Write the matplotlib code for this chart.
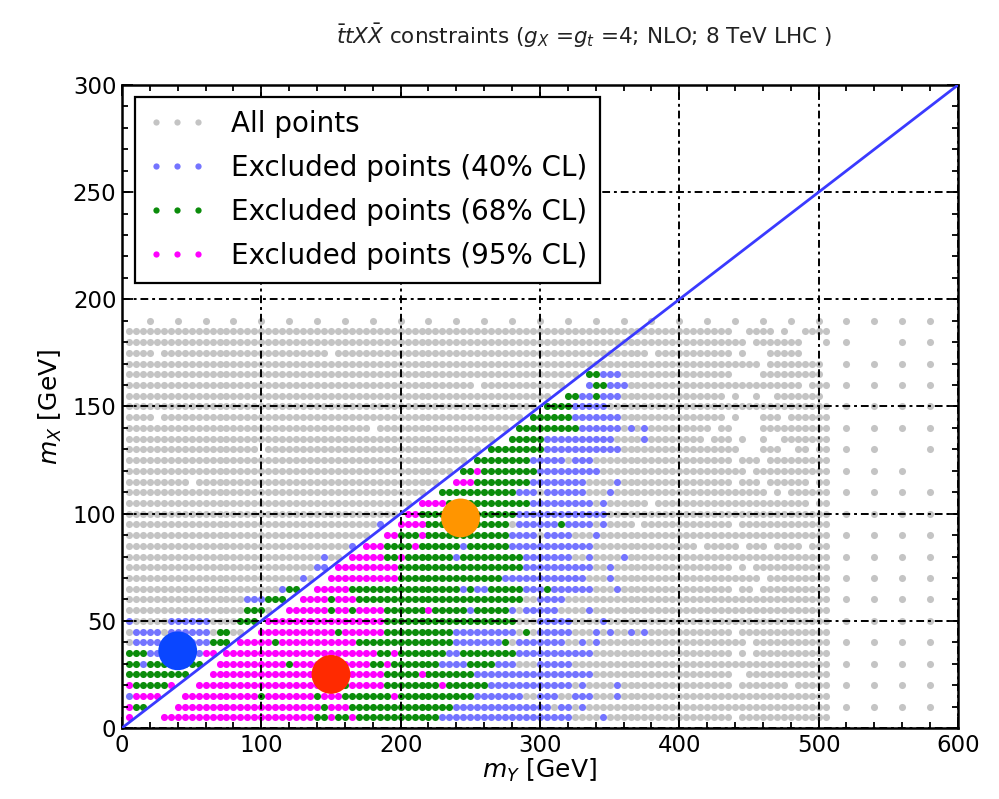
import matplotlib
matplotlib.use("Agg")
import matplotlib.pyplot as plt
from matplotlib.ticker import MultipleLocator
from matplotlib.lines import Line2D

# ---------------- data ----------------
# scan grid
ROWS_MX = list(range(5, 190, 5))            # dense rows of m_X
MY_DENSE = list(range(5, 510, 5))           # dense columns of m_Y
TOP_ROW_MX = 190                            # sparse top row
TOP_ROW_MY = list(range(20, 600, 20))
RIGHT_MX = list(range(10, 200, 10))         # sparse block beyond 500 GeV
RIGHT_MY = [520, 540, 560, 580]
RIGHT_MISSING = [(180, 540), (130, 560), (120, 580)]

# per-row empty strip just below the diagonal, and the excluded bands to its right
BAND_MX = [5, 10, 15, 20, 25, 30, 35, 40, 45, 50, 55, 60, 65, 70, 75, 80, 85,
           90, 95, 100, 105, 110, 115, 120, 125, 130, 135, 140, 145, 150, 155, 160, 165]
GAP_LO = [10, 20, 30, 40, 50, 60, 70, 80, 90, 100, 110, 120, 130, 140, 150, 160, 170,
          180, 190, 200, 210, 220, 230, 240, 250, 260, 270, 280, 290, 300, 310, 320, 330]
GAP_HI = [30, 40, 45, 55, 65, 70, 75, 85, 100, 105, 120, 130, 140, 150, 155, 165, 175,
          190, 200, 205, 215, 230, 240, 245, 255, 265, 280, 285, 295, 305, 320, 335, 335]
MAG_END = [135, 160, 155, 185, 185, 175, 180, 165, 185, 185, 185, 165, 160, 195, 195, 185, 185,
           195, 215, 210, 230, 0, 250, 0, 0, 0, 0, 0, 0, 0, 0, 0, 0]
GRN_END = [225, 235, 250, 260, 250, 225, 280, 235, 235, 280, 275, 285, 285, 270, 285, 285, 275,
           275, 275, 280, 290, 280, 290, 295, 290, 300, 300, 325, 320, 320, 340, 345, 340]
BLU_END = [320, 320, 335, 320, 335, 320, 335, 315, 320, 320, 310, 315, 335, 330, 335, 320, 335,
           320, 335, 340, 335, 330, 330, 340, 335, 355, 350, 355, 355, 345, 355, 360, 355]

# excluded points left of the diagonal: (m_X, m_Y from, m_Y to)
LEFT_MAG = [(5, 5, 5), (10, 5, 5), (15, 10, 25), (20, 5, 5), (20, 35, 35), (35, 60, 65)]
LEFT_GRN = [(10, 10, 15), (20, 10, 30), (25, 5, 45), (30, 5, 10), (30, 20, 30), (30, 45, 55),
            (35, 5, 15), (40, 65, 75), (45, 70, 75), (50, 85, 95), (55, 90, 100),
            (60, 105, 115), (65, 120, 125)]
LEFT_BLU = [(15, 5, 5), (30, 15, 15), (30, 35, 40), (35, 20, 55), (40, 10, 60), (45, 10, 25),
            (45, 35, 60), (50, 5, 5), (50, 35, 60), (60, 90, 100), (65, 115, 115),
            (70, 130, 130), (75, 140, 145), (80, 145, 145), (85, 165, 165), (95, 185, 185)]

# scattered single points
EXTRA_MAG = [(90, 215), (85, 210), (80, 200), (55, 220), (25, 215), (20, 230), (120, 255),
             (5, 150), (5, 165), (15, 195), (35, 195), (30, 190)]
EXTRA_GRN = [(45, 155), (55, 150), (55, 165), (45, 290), (40, 275), (30, 250), (30, 255),
             (30, 260), (30, 265), (65, 305), (95, 315), (160, 340), (155, 340), (10, 145),
             (15, 140), (20, 160), (25, 150), (40, 110), (30, 120), (60, 150), (15, 100)]
EXTRA_BLU = [(5, 345), (10, 330), (20, 330), (20, 355), (40, 330), (40, 340), (45, 340),
             (45, 350), (45, 365), (50, 345), (55, 335), (65, 355), (75, 350), (80, 335),
             (80, 360), (90, 340), (95, 345), (115, 355), (140, 365), (140, 375), (135, 375),
             (65, 255), (65, 260), (85, 245), (80, 240), (35, 235), (35, 240), (55, 250),
             (65, 245), (160, 335), (155, 330), (155, 335), (70, 350), (15, 355), (45, 375),
             (110, 350), (105, 345), (100, 345), (130, 345), (145, 345), (165, 345)]
EXTRA_GRAY = [(60, 290), (60, 295), (50, 285), (50, 290), (50, 295), (30, 285), (30, 290),
              (30, 295), (15, 290), (15, 295), (15, 315), (15, 320), (90, 300), (55, 285),
              (45, 285), (45, 295), (40, 280), (95, 280), (110, 300), (125, 320), (10, 310)]
GRAY_HOLES = [(175, 25), (175, 150), (145, 25), (140, 180), (130, 100), (115, 50), (160, 255),
              (185, 440), (185, 445), (185, 470), (185, 480), (185, 485),
              (180, 450), (180, 490), (180, 495), (180, 500),
              (175, 380), (175, 440), (175, 450), (175, 455), (175, 460), (175, 490),
              (175, 495), (175, 500), (175, 505), (170, 460), (170, 505),
              (165, 440), (165, 445), (165, 450), (165, 455), (165, 505), (160, 490),
              (155, 435), (155, 445), (155, 450), (155, 460), (155, 465), (155, 505),
              (145, 435), (145, 445), (145, 450), (145, 455), (145, 475),
              (140, 425), (140, 440), (140, 445), (140, 450), (140, 455),
              (135, 420), (135, 440), (135, 450), (135, 455), (135, 465), (135, 470),
              (130, 445), (130, 450), (130, 455), (130, 475), (130, 480), (130, 495),
              (125, 440), (125, 460), (120, 450), (115, 440), (115, 460), (115, 495),
              (110, 465), (110, 475), (105, 380), (105, 495), (95, 370), (95, 440),
              (85, 415), (85, 445), (85, 465), (85, 490), (75, 440), (75, 450), (70, 460),
              (65, 440), (65, 455), (45, 440), (40, 450), (35, 440), (35, 450),
              (25, 440), (25, 445), (20, 440), (20, 480), (5, 440)]

# benchmark points (m_Y, m_X) and colours
BENCH_MY = [40, 150, 243]
BENCH_MX = [36, 25, 98]
BENCH_COL = ["#0a46ff", "#ff2a00", "#ff9500"]

COLORS = {"gray": "#c4c4c4", "blue": "#7474ff", "green": "#0b8c0b", "mag": "#ff00ff"}

# ---------------- assemble the point colours ----------------
pts = {}
for mx in ROWS_MX:
    for my in MY_DENSE:
        pts[(mx, my)] = "gray"
for my in TOP_ROW_MY:
    pts[(TOP_ROW_MX, my)] = "gray"
for mx in RIGHT_MX:
    for my in RIGHT_MY:
        if (mx, my) not in RIGHT_MISSING:
            pts[(mx, my)] = "gray"
for (mx, my) in GRAY_HOLES:
    pts.pop((mx, my), None)

for i, mx in enumerate(BAND_MX):
    for my in MY_DENSE:
        if GAP_LO[i] <= my < GAP_HI[i]:
            pts.pop((mx, my), None)
        elif my >= GAP_HI[i] and (mx, my) in pts:
            if my <= MAG_END[i]:
                pts[(mx, my)] = "mag"
            elif my <= GRN_END[i]:
                pts[(mx, my)] = "green"
            elif my <= BLU_END[i]:
                pts[(mx, my)] = "blue"

for segs, c in ((LEFT_BLU, "blue"), (LEFT_GRN, "green"), (LEFT_MAG, "mag")):
    for mx, a, b in segs:
        for my in MY_DENSE:
            if a <= my <= b and (mx, my) in pts:
                pts[(mx, my)] = c
for lst, c in ((EXTRA_GRAY, "gray"), (EXTRA_BLU, "blue"), (EXTRA_GRN, "green"), (EXTRA_MAG, "mag")):
    for (mx, my) in lst:
        if (mx, my) in pts:
            pts[(mx, my)] = c

# ---------------- figure ----------------
fig = plt.figure(figsize=(9.99, 7.99), dpi=100)
ax = fig.add_axes([0.1221, 0.0889, 0.8368, 0.8047])

labels = {"gray": "All points", "blue": "Excluded points (40% CL)",
          "green": "Excluded points (68% CL)", "mag": "Excluded points (95% CL)"}
for c in ("gray", "blue", "green", "mag"):
    xs = [my for (mx, my), cc in pts.items() if cc == c]
    ys = [mx for (mx, my), cc in pts.items() if cc == c]
    ax.scatter(xs, ys, s=26, color=COLORS[c], marker="o", linewidths=0, zorder=1)

ax.plot([0, 600], [0, 300], color="#3a3aff", lw=2.0, zorder=3)
ax.scatter(BENCH_MY, BENCH_MX, s=780, c=BENCH_COL, linewidths=0, zorder=4)

ax.set_xlim(0, 600)
ax.set_ylim(0, 300)
ax.xaxis.set_major_locator(MultipleLocator(100))
ax.xaxis.set_minor_locator(MultipleLocator(20))
ax.yaxis.set_major_locator(MultipleLocator(50))
ax.yaxis.set_minor_locator(MultipleLocator(10))
ax.tick_params(which="both", direction="in", top=True, right=True, width=1.3, labelsize=16.5)
ax.tick_params(which="major", length=8, pad=4)
ax.tick_params(which="minor", length=4)
for sp in ax.spines.values():
    sp.set_linewidth(1.8)
ax.set_axisbelow(False)
ax.grid(True, which="major", color="black", lw=1.4, linestyle=(0, (4, 2, 1.5, 2)))

ax.set_xlabel(r"$m_Y$ [GeV]", fontsize=18, labelpad=0)
ax.set_ylabel(r"$m_X$ [GeV]", fontsize=18, labelpad=6)

fig.text(0.585, 0.955, r"$\bar{t}tX\bar{X}$ constraints ($g_X$ =$g_t$ =4; NLO; 8 TeV LHC )",
         ha="center", va="center", fontsize=15.5, color="#222222")

handles = [Line2D([], [], ls="none", marker="o", markersize=4.5, color=COLORS[c],
                  markeredgewidth=0) for c in ("gray", "blue", "green", "mag")]
leg = ax.legend(handles, [labels[c] for c in ("gray", "blue", "green", "mag")],
                loc="upper left", bbox_to_anchor=(0.0156, 0.981), borderaxespad=0,
                numpoints=3, fontsize=20, frameon=True, fancybox=False, framealpha=1,
                edgecolor="black", handlelength=2.1, handletextpad=0.9,
                borderpad=0.45, labelspacing=0.58)
leg.get_frame().set_linewidth(1.6)
leg.set_zorder(6)

fig.savefig("out.png", dpi=100)
